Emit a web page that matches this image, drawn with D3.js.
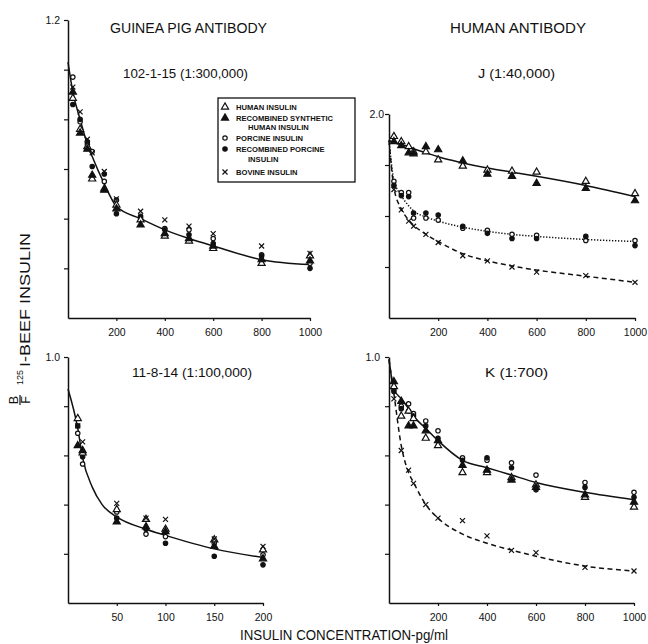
<!DOCTYPE html>
<html>
<head>
<meta charset="utf-8">
<script src="https://cdn.jsdelivr.net/npm/d3@7"></script>
<style>
  html, body { margin: 0; padding: 0; background: #fff; }
  svg { display: block; font-family: "Liberation Sans", Arial, sans-serif; }
</style>
</head>
<body>
<svg id="chart" width="648" height="644"></svg>
<script>
// insulin concentrations, pg/ml
const concHigh = [20, 50, 80, 100, 150, 200, 300, 400, 500, 600, 800, 1000];
const concLow = [10, 15, 50, 80, 100, 150, 200];
const fitConcHigh = [0, 20, 50, 80, 100, 150, 200, 300, 400, 500, 600, 800, 1000];
const fitConcLow = [0, 10, 15, 25, 35, 50, 80, 100, 150, 200];

const xTicksHigh = [200, 400, 600, 800, 1000];
const xTicksLow = [50, 100, 150, 200];
const yTicksGp = [0.2, 0.4, 0.6, 0.8, 1.0, 1.2];
const yTicksJ = [0.5, 1.0, 1.5, 2.0];
const yTicksUnit = [0.2, 0.4, 0.6, 0.8, 1.0];

// guinea pig antibody 102-1-15 (1:300,000)
const gpHuman      = [0.885, 0.76, 0.69, 0.56, 0.52, 0.455, 0.395, 0.33, 0.31, 0.28, 0.22, 0.25];
const gpSynth      = [0.91, 0.745, 0.68, 0.575, 0.515, 0.44, 0.375, 0.34, 0.32, 0.29, 0.235, 0.23];
const gpPorcine    = [0.97, 0.79, 0.70, 0.67, 0.55, 0.475, 0.40, 0.36, 0.355, 0.32, 0.255, 0.22];
const gpRecPorcine = [0.86, 0.80, 0.71, 0.61, 0.58, 0.42, 0.41, 0.355, 0.335, 0.30, 0.25, 0.20];
const gpBovine     = [0.93, 0.83, 0.72, 0.665, 0.59, 0.48, 0.43, 0.395, 0.37, 0.34, 0.29, 0.26];
const gpFit        = [1.03, 0.91, 0.80, 0.70, 0.65, 0.54, 0.45, 0.40, 0.355, 0.32, 0.29, 0.235, 0.215];

// human antibody J (1:40,000)
const jHuman      = [1.78, 1.73, 1.68, 1.63, 1.63, 1.55, 1.49, 1.45, 1.44, 1.43, 1.34, 1.22];
const jSynth      = [1.73, 1.69, 1.62, 1.61, 1.68, 1.65, 1.54, 1.41, 1.39, 1.32, 1.27, 1.15];
const jPorcine    = [1.34, 1.23, 1.23, 0.98, 0.98, 0.96, 0.88, 0.86, 0.82, 0.81, 0.76, 0.76];
const jRecPorcine = [1.30, 1.20, 1.19, 1.03, 1.03, 1.01, 0.90, 0.83, 0.78, 0.78, 0.80, 0.71];
const jBovine     = [1.26, 1.06, 0.95, 0.90, 0.82, 0.74, 0.61, 0.56, 0.50, 0.45, 0.415, 0.35];
const jFitHuman   = [1.74, 1.72, 1.70, 1.68, 1.66, 1.62, 1.58, 1.52, 1.47, 1.43, 1.39, 1.30, 1.19];
const jFitPorcine = [1.74, 1.35, 1.20, 1.10, 1.05, 0.99, 0.95, 0.89, 0.85, 0.82, 0.80, 0.77, 0.75];
const jFitBovine  = [1.74, 1.28, 1.07, 0.96, 0.91, 0.82, 0.75, 0.63, 0.56, 0.51, 0.47, 0.41, 0.35];

// guinea pig antibody 11-8-14 (1:100,000)
const cHuman      = [0.75, 0.61, 0.38, 0.34, 0.30, 0.257, 0.216];
const cSynth      = [0.64, 0.62, 0.33, 0.31, 0.29, 0.23, 0.18];
const cPorcine    = [0.69, 0.565, 0.37, 0.28, 0.27, 0.243, 0.196];
const cRecPorcine = [0.72, 0.595, 0.345, 0.30, 0.243, 0.19, 0.155];
const cBovine     = [0.72, 0.655, 0.405, 0.345, 0.34, 0.26, 0.23];
const cFit        = [0.87, 0.71, 0.59, 0.47, 0.40, 0.35, 0.30, 0.275, 0.22, 0.185];

// human antibody K (1:700)
const kHuman      = [0.88, 0.76, 0.78, 0.75, 0.67, 0.64, 0.53, 0.53, 0.51, 0.48, 0.43, 0.39];
const kSynth      = [0.90, 0.82, 0.72, 0.72, 0.70, 0.66, 0.56, 0.54, 0.50, 0.47, 0.44, 0.41];
const kPorcine    = [0.87, 0.80, 0.81, 0.77, 0.74, 0.70, 0.59, 0.58, 0.57, 0.52, 0.49, 0.45];
const kRecPorcine = [0.86, 0.79, 0.78, 0.76, 0.72, 0.67, 0.58, 0.59, 0.55, 0.46, 0.47, 0.43];
const kBovine     = [0.83, 0.62, 0.54, 0.486, 0.40, 0.345, 0.335, 0.273, 0.214, 0.205, 0.145, 0.13];
const kFitHuman   = [0.99, 0.87, 0.83, 0.79, 0.76, 0.71, 0.66, 0.58, 0.55, 0.52, 0.49, 0.45, 0.42];
const kFitBovine  = [0.99, 0.85, 0.64, 0.53, 0.49, 0.40, 0.345, 0.28, 0.243, 0.215, 0.19, 0.15, 0.13];

const legendLabels = [
  { key: "human",      lines: ["HUMAN INSULIN"] },
  { key: "synth",      lines: ["RECOMBINED SYNTHETIC", "HUMAN INSULIN"] },
  { key: "porcine",    lines: ["PORCINE INSULIN"] },
  { key: "recPorcine", lines: ["RECOMBINED PORCINE", "INSULIN"] },
  { key: "bovine",     lines: ["BOVINE INSULIN"] }
];

const svg = d3.select("#chart");
const INK = "#111";

// panel layout + which arrays go where
const panels = [
  {
    label: "102-1-15 (1:300,000)", labelX: [123, 248], labelY: 78,
    xRange: [68, 310], yRange: [318, 20], xMax: 1000, yMax: 1.2,
    xTicks: xTicksHigh, yTicks: yTicksGp, yLabel: "1.2", yLabelGap: 8,
    conc: concHigh,
    series: { human: gpHuman, synth: gpSynth, porcine: gpPorcine, recPorcine: gpRecPorcine, bovine: gpBovine },
    fits: [{ conc: fitConcHigh, values: gpFit, dash: null }]
  },
  {
    label: "J (1:40,000)", labelX: [478, 555], labelY: 78,
    xRange: [389, 635], yRange: [318, 114], xMax: 1000, yMax: 2.0,
    xTicks: xTicksHigh, yTicks: yTicksJ, yLabel: "2.0", yLabelGap: 5,
    conc: concHigh,
    series: { human: jHuman, synth: jSynth, porcine: jPorcine, recPorcine: jRecPorcine, bovine: jBovine },
    fits: [
      { conc: fitConcHigh, values: jFitHuman, dash: null },
      { conc: fitConcHigh, values: jFitPorcine, dash: "1.3,1.7" },
      { conc: fitConcHigh, values: jFitBovine, dash: "5,3.5" }
    ]
  },
  {
    label: "11-8-14 (1:100,000)", labelX: [132, 252], labelY: 377,
    xRange: [68, 263], yRange: [603, 357], xMax: 200, yMax: 1.0,
    xTicks: xTicksLow, yTicks: yTicksUnit, yLabel: "1.0", yLabelGap: 8,
    conc: concLow,
    series: { human: cHuman, synth: cSynth, porcine: cPorcine, recPorcine: cRecPorcine, bovine: cBovine },
    fits: [{ conc: fitConcLow, values: cFit, dash: null }]
  },
  {
    label: "K (1:700)", labelX: [485, 548], labelY: 377,
    xRange: [389, 634], yRange: [603, 357], xMax: 1000, yMax: 1.0,
    xTicks: xTicksHigh, yTicks: yTicksUnit, yLabel: "1.0", yLabelGap: 9,
    conc: concHigh,
    series: { human: kHuman, synth: kSynth, porcine: kPorcine, recPorcine: kRecPorcine, bovine: kBovine },
    fits: [
      { conc: fitConcHigh, values: kFitHuman, dash: null },
      { conc: fitConcHigh, values: kFitBovine, dash: "5,3.5" }
    ]
  }
];

const drawOrder = ["porcine", "recPorcine", "human", "synth", "bovine"];

function drawSymbol(g, key, x, y) {
  if (key === "human" || key === "synth") {
    g.append("path")
      .attr("d", d3.symbol(d3.symbolTriangle, 22)())
      .attr("transform", `translate(${x},${y})`)
      .attr("fill", key === "synth" ? INK : "#fff")
      .attr("stroke", INK).attr("stroke-width", 1.2);
  } else if (key === "porcine" || key === "recPorcine") {
    g.append("circle")
      .attr("cx", x).attr("cy", y).attr("r", 2.2)
      .attr("fill", key === "recPorcine" ? INK : "#fff")
      .attr("stroke", INK).attr("stroke-width", 1.2);
  } else {
    g.append("path")
      .attr("d", d3.symbol(d3.symbolTimes, 18)())
      .attr("transform", `translate(${x},${y})`)
      .attr("fill", "none")
      .attr("stroke", INK).attr("stroke-width", 1.2);
  }
}

panels.forEach(p => {
  const x = d3.scaleLinear().domain([0, p.xMax]).range(p.xRange);
  const y = d3.scaleLinear().domain([0, p.yMax]).range(p.yRange);
  const g = svg.append("g");

  // axes
  g.append("g")
    .attr("transform", `translate(${p.xRange[0]},0)`)
    .call(d3.axisLeft(y).tickValues(p.yTicks).tickSize(4).tickSizeOuter(0)
      .tickPadding(p.yLabelGap - 4)
      .tickFormat(d => d === p.yMax ? p.yLabel : ""))
    .call(a => a.select(".domain").attr("stroke", INK).attr("stroke-width", 1.5))
    .call(a => a.selectAll(".tick line").attr("stroke", INK).attr("stroke-width", 1.2))
    .call(a => a.selectAll("text").attr("font-size", 10.5).attr("fill", INK).attr("font-family", null));

  g.append("g")
    .attr("transform", `translate(0,${p.yRange[0]})`)
    .call(d3.axisBottom(x).tickValues(p.xTicks).tickSize(3).tickSizeOuter(0)
      .tickFormat(d3.format("d")))
    .call(a => a.select(".domain").attr("stroke", INK).attr("stroke-width", 1.5))
    .call(a => a.selectAll(".tick line").attr("stroke", INK).attr("stroke-width", 1.2))
    .call(a => a.selectAll("text").attr("y", 18).attr("dy", null)
      .attr("font-size", 10.5).attr("fill", INK).attr("font-family", null));

  // fitted curves
  const line = d3.line()
    .x(d => x(d[0]))
    .y(d => y(d[1]))
    .curve(d3.curveMonotoneX);
  p.fits.forEach(f => {
    g.append("path")
      .attr("d", line(f.conc.map((c, i) => [c, f.values[i]])))
      .attr("fill", "none")
      .attr("stroke", INK)
      .attr("stroke-width", 1.5)
      .attr("stroke-dasharray", f.dash);
  });

  // data points
  drawOrder.forEach(key => {
    p.series[key].forEach((v, i) => drawSymbol(g, key, x(p.conc[i]), y(v)));
  });

  // panel label
  g.append("text")
    .attr("x", p.labelX[0]).attr("y", p.labelY)
    .attr("textLength", p.labelX[1] - p.labelX[0])
    .attr("lengthAdjust", "spacingAndGlyphs")
    .attr("font-size", 12.5).attr("fill", INK)
    .text(p.label);
});

// column titles
[["GUINEA PIG ANTIBODY", 110, 267], ["HUMAN ANTIBODY", 450, 586]].forEach(([t, x0, x1]) => {
  svg.append("text")
    .attr("x", x0).attr("y", 33)
    .attr("textLength", x1 - x0).attr("lengthAdjust", "spacingAndGlyphs")
    .attr("font-size", 14).attr("fill", INK)
    .text(t);
});

// x axis title
svg.append("text")
  .attr("x", 240).attr("y", 640)
  .attr("textLength", 208).attr("lengthAdjust", "spacingAndGlyphs")
  .attr("font-size", 14).attr("fill", INK)
  .text("INSULIN CONCENTRATION-pg/ml");

// y axis title: B/F 125I-BEEF INSULIN
const yt = svg.append("g").attr("transform", "translate(29,319) rotate(-90)");
yt.append("text").attr("x", -81).attr("y", -11).attr("text-anchor", "middle")
  .attr("font-size", 12.5).attr("fill", INK).text("B");
yt.append("line").attr("x1", -86).attr("x2", -76).attr("y1", -9).attr("y2", -9)
  .attr("stroke", INK).attr("stroke-width", 1.2);
yt.append("text").attr("x", -81).attr("y", 1).attr("text-anchor", "middle")
  .attr("font-size", 12.5).attr("fill", INK).text("F");
yt.append("text").attr("x", -66).attr("y", -6)
  .attr("textLength", 15).attr("lengthAdjust", "spacingAndGlyphs")
  .attr("font-size", 9).attr("fill", INK).text("125");
yt.append("text").attr("x", -48).attr("y", 1)
  .attr("textLength", 134).attr("lengthAdjust", "spacingAndGlyphs")
  .attr("font-size", 14).attr("fill", INK).text("I-BEEF INSULIN");

// legend
const lg = svg.append("g");
lg.append("rect")
  .attr("x", 218).attr("y", 98).attr("width", 137).attr("height", 84)
  .attr("fill", "#fff").attr("stroke", INK).attr("stroke-width", 1.3);
const legendRowY = [110, 121, 130, 141, 152, 162, 175];
let row = 0;
legendLabels.forEach(item => {
  drawSymbol(lg, item.key, 225, legendRowY[row] - 3);
  item.lines.forEach((txt, j) => {
    lg.append("text")
      .attr("x", j === 0 ? 236 : 248).attr("y", legendRowY[row])
      .attr("font-size", 7.6).attr("font-weight", "bold").attr("fill", INK)
      .text(txt);
    row++;
  });
});
</script>
</body>
</html>
